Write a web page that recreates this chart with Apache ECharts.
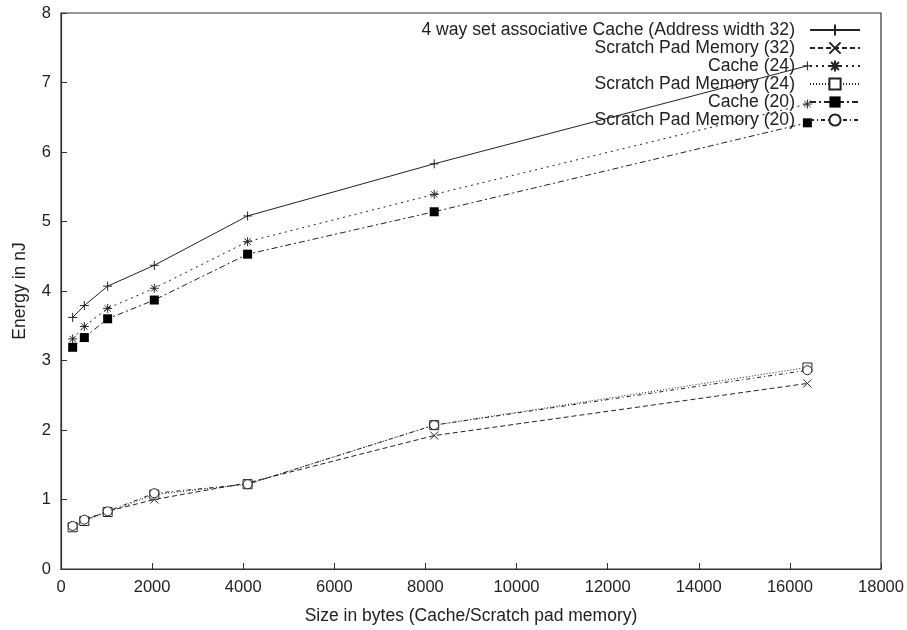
<!DOCTYPE html>
<html>
<head>
<meta charset="utf-8">
<script src="https://cdn.jsdelivr.net/npm/echarts@6/dist/echarts.min.js"></script>
<style>html,body{margin:0;padding:0;background:#fff;}#c{width:907px;height:630px;}</style>
</head>
<body>
<div id="c"></div>
<script>
const sizes = [256, 512, 1024, 2048, 4096, 8192, 16384];
const seriesNames = [
  '4 way set associative Cache (Address width 32)',
  'Scratch Pad Memory (32)',
  'Cache (24)',
  'Scratch Pad Memory (24)',
  'Cache (20)',
  'Scratch Pad Memory (20)'
];
const cache32 = [3.62, 3.79, 4.07, 4.37, 5.08, 5.83, 7.24];
const spm32   = [0.62, 0.70, 0.83, 1.00, 1.24, 1.92, 2.67];
const cache24 = [3.31, 3.49, 3.75, 4.04, 4.71, 5.39, 6.69];
const spm24   = [0.60, 0.69, 0.82, 1.07, 1.22, 2.07, 2.90];
const cache20 = [3.19, 3.33, 3.60, 3.87, 4.53, 5.14, 6.42];
const spm20   = [0.62, 0.71, 0.83, 1.09, 1.22, 2.07, 2.86];
const xTicks = [0, 2000, 4000, 6000, 8000, 10000, 12000, 14000, 16000, 18000];
const yTicks = [0, 1, 2, 3, 4, 5, 6, 7, 8];

const INK = '#222';
const FONT = 'Liberation Sans, Arial, sans-serif';
const PLUS = 'path://M5,0V10M0,5H10';
const CROSS = 'path://M0,0L10,10M10,0L0,10';
const STAR = 'path://M5,0V10M0,5H10M1.5,1.5L8.5,8.5M8.5,1.5L1.5,8.5';

function mk(name, vals, symbol, size, dash, filled) {
  return {
    name: name,
    type: 'line',
    data: sizes.map((s, i) => [s, vals[i]]),
    symbol: symbol,
    symbolSize: size,
    showAllSymbol: true,
    lineStyle: { color: INK, width: 1, type: dash },
    itemStyle: filled === 'fill'
      ? { color: '#000', borderColor: '#000', borderWidth: 0 }
      : filled === 'empty'
        ? { color: '#fff', borderColor: INK, borderWidth: 1 }
        : { color: INK, borderColor: INK, borderWidth: 1 },
    emphasis: { disabled: true },
    animation: false
  };
}

const series = [
  mk(seriesNames[0], cache32, PLUS, 9, 'solid', 'stroke'),
  mk(seriesNames[1], spm32, CROSS, 8, [5, 3], 'stroke'),
  mk(seriesNames[2], cache24, STAR, 9, [2, 4], 'stroke'),
  mk(seriesNames[3], spm24, 'rect', 9, [1, 2], 'empty'),
  mk(seriesNames[4], cache20, 'rect', 9, [6, 3, 2, 3], 'fill'),
  mk(seriesNames[5], spm20, 'circle', 9, [4, 3, 1, 3], 'empty')
];

const chart = echarts.init(document.getElementById('c'), null, { renderer: 'canvas' });
chart.setOption({
  backgroundColor: '#fff',
  animation: false,
  textStyle: { fontFamily: FONT },
  grid: { left: 61, right: 26, top: 13, bottom: 56, show: true, borderColor: '#333', borderWidth: 1.2, containLabel: false },
  legend: {
    data: seriesNames,
    orient: 'vertical',
    right: 41,
    top: 16,
    align: 'right',
    itemWidth: 50,
    itemHeight: 14,
    itemGap: 0,
    selectedMode: false,
    textStyle: { fontSize: 17.6, lineHeight: 17, color: INK, fontFamily: FONT, padding: [0, 10, 0, 0] }
  },
  xAxis: {
    type: 'value',
    min: xTicks[0],
    max: xTicks[xTicks.length - 1],
    interval: 2000,
    name: 'Size in bytes (Cache/Scratch pad memory)',
    nameLocation: 'middle',
    nameGap: 38,
    nameTextStyle: { fontSize: 17.5, color: INK, fontFamily: FONT },
    axisLine: { show: true, lineStyle: { color: '#333', width: 1.2 } },
    axisTick: { show: true, inside: true, length: 6, lineStyle: { color: '#333' } },
    axisLabel: { fontSize: 16.5, color: INK, margin: 10, fontFamily: FONT, formatter: v => String(v) },
    splitLine: { show: false }
  },
  yAxis: {
    type: 'value',
    min: yTicks[0],
    max: yTicks[yTicks.length - 1],
    interval: 1,
    name: 'Energy in nJ',
    nameLocation: 'middle',
    nameGap: 32,
    nameRotate: 90,
    nameTextStyle: { fontSize: 17.5, color: INK, fontFamily: FONT },
    axisLine: { show: true, lineStyle: { color: '#333', width: 1.2 } },
    axisTick: { show: true, inside: true, length: 6, lineStyle: { color: '#333' } },
    axisLabel: { fontSize: 16.5, color: INK, margin: 10, fontFamily: FONT, formatter: v => String(v) },
    splitLine: { show: false }
  },
  series: series
});
</script>
</body>
</html>
